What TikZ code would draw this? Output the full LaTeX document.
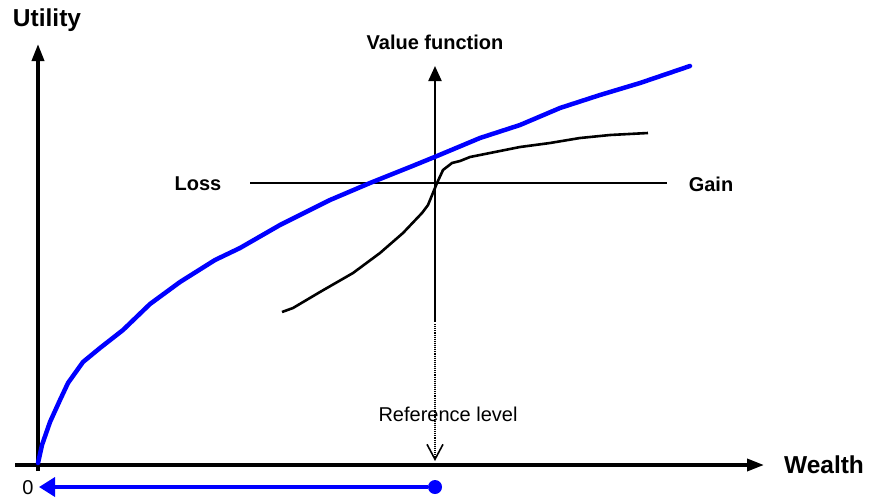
\documentclass[tikz,border=0pt]{standalone}
\usepackage{fontspec}
\setmainfont{Liberation Sans}
\usepackage{tikz}
\usetikzlibrary{arrows.meta,positioning}
\definecolor{wealthblue}{HTML}{0000FF}

\begin{document}
\begin{tikzpicture}[
        x=1pt, y=-1pt,
        axis/.style={line width=3.5pt, -{Triangle[length=17pt,width=12pt]}},
        vaxis/.style={line width=2.2pt},
        vaxisarrow/.style={vaxis, -{Triangle[length=15pt,width=13pt]}},
        utilcurve/.style={wealthblue, line width=4.5pt, line join=round, line cap=round},
        valcurve/.style={black, line width=2.6pt, line join=round},
        reflink/.style={densely dotted, line width=1.1pt, -{Straight Barb[length=15pt,width=16pt,line width=1.6pt]}},
        shiftarrow/.style={wealthblue, line width=3.5pt, -{Triangle[length=16pt,width=19pt]}},
        biglabel/.style={font=\fontsize{24.5}{26}\selectfont\bfseries},
        smalllabel/.style={font=\fontsize{20}{22}\selectfont\bfseries},
        plainlabel/.style={font=\fontsize{20}{22}\selectfont}
    ]
        \useasboundingbox (0,0) rectangle (869,499);

        % wealth axes
        \coordinate (o) at (38,465);
        \coordinate (ybot) at (38,471);
        \coordinate (ytop) at (38,44);
        \coordinate (xleft) at (15,465);
        \coordinate (xright) at (764,465);
        \draw[axis] (ybot) -- (ytop);
        \draw[axis] (xleft) -- (xright);
        \node[biglabel] (util) at (47,20) {Utility};
        \node[biglabel] (wealth) at (824,465) {Wealth};
        \node[plainlabel] (zero) at (28,488) {0};

        % value function axes
        \coordinate (vbot) at (435,322);
        \coordinate (vtop) at (435,66);
        \coordinate (hleft) at (250,183);
        \coordinate (hright) at (667,183);
        \draw[vaxisarrow] (vbot) -- (vtop);
        \draw[vaxis] (hleft) -- (hright);
        \node[smalllabel] (vf) at (435,42) {Value function};
        \node[smalllabel] (loss) at (198,184) {Loss};
        \node[smalllabel] (gain) at (711,184) {Gain};

        % utility of wealth
        \draw[utilcurve] (38,463) -- (42,445) -- (50,422) -- (60,400) -- (68,383)
            -- (83,362) -- (100,348) -- (123,330) -- (150,304) -- (180,282)
            -- (215,260) -- (240,248) -- (280,225) -- (330,200) -- (370,183)
            -- (410,167) -- (437,156) -- (480,138) -- (520,125) -- (560,108)
            -- (600,95) -- (640,83) -- (690,66);

        % value function
        \draw[valcurve] (282,312) -- (293,308) -- (320,292) -- (353,273)
            -- (380,253) -- (403,233) -- (422,213) -- (428,205) -- (437,183)
            -- (443,170) -- (452,163) -- (460,161) -- (470,157) -- (490,153)
            -- (520,147) -- (550,143) -- (580,138) -- (610,135) -- (648,133);

        % reference level
        \coordinate (reftop) at (435,324);
        \coordinate (refbot) at (435,461);
        \draw[reflink] (reftop) -- (refbot);
        \node[plainlabel] (reflabel) at (448,414) {Reference level};

        % shift of the reference point
        \node[circle, fill=wealthblue, inner sep=0pt, minimum size=14pt] (refdot) at (435,487) {};
        \coordinate (zerotip) at (39,487);
        \draw[shiftarrow] (refdot) -- (zerotip);
    \end{tikzpicture}
\end{document}
